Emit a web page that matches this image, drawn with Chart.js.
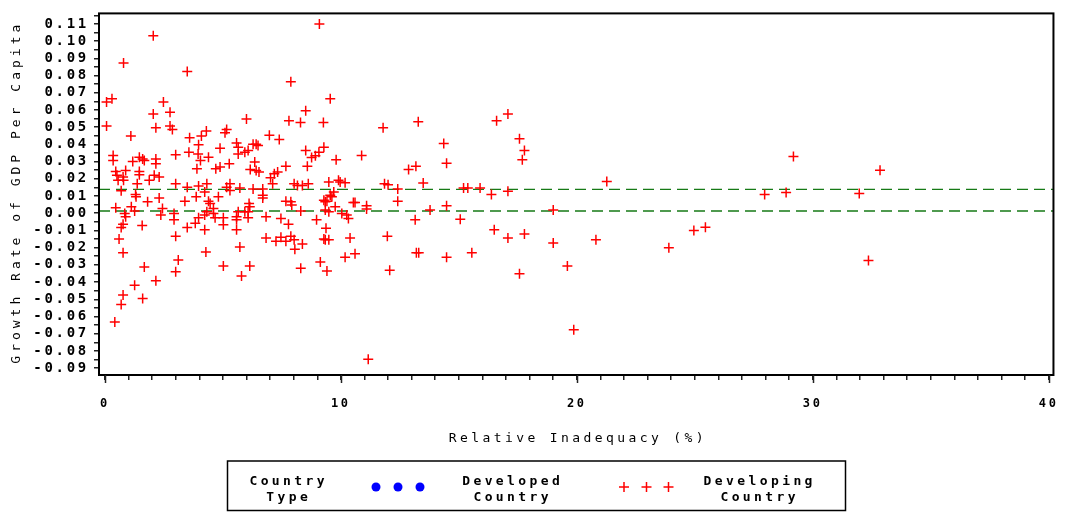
<!DOCTYPE html>
<html>
<head>
<meta charset="utf-8">
<title>Growth Rate vs Relative Inadequacy</title>
<script src="https://cdn.jsdelivr.net/npm/chart.js@4"></script>
<style>
  body { margin: 0; background: #fff; }
  #wrap { width: 1073px; height: 512px; position: relative; }
</style>
</head>
<body>
<div id="wrap"><canvas id="scatter"></canvas></div>
<script>
// Relative inadequacy (%) of each developing country
const relInadequacy = [
  0.07, 0.30, 0.07, 0.79, 2.05, 3.49, 9.09, 7.88, 9.55, 2.48,
  2.05, 2.76, 2.16, 2.76, 2.86, 1.10, 6.00, 8.51, 7.80, 8.29,
  9.26, 3.59, 3.97, 4.09, 4.30, 5.09, 5.16, 6.97, 7.39, 11.79,
  13.28, 16.60, 17.08, 17.57, 3.56, 3.95, 4.05, 4.39, 3.90, 4.70,
  4.88, 4.88, 5.58, 5.65, 5.65, 5.93, 6.07, 6.28, 6.41, 6.49,
  5.27, 6.35, 6.16, 6.41, 6.53, 7.67, 8.51, 9.28, 8.76, 8.92,
  9.07, 9.80, 8.58, 7.18, 7.32, 7.02, 0.35, 0.35, 1.18, 1.46,
  1.60, 1.67, 2.16, 2.16, 3.00, 0.46, 0.51, 0.88, 1.46, 1.46,
  2.09, 2.30, 0.77, 10.88, 12.87, 13.18, 14.36, 14.48, 17.78, 17.69,
  29.18, 32.85, 0.56, 0.79, 1.88, 1.37, 3.00, 3.49, 3.97, 4.32,
  5.30, 5.16, 5.30, 5.72, 6.28, 6.69, 7.11, 8.02, 8.16, 8.37,
  8.62, 9.49, 9.90, 9.97, 10.18, 0.69, 1.30, 1.32, 1.81, 2.30,
  3.39, 3.87, 4.23, 4.39, 4.46, 4.81, 6.69, 6.69, 9.70, 9.62,
  9.55, 9.28, 9.34, 9.41, 10.53, 7.67, 7.88, 6.11, 11.85, 12.00,
  12.41, 13.49, 15.20, 15.38, 15.90, 16.38, 17.08, 21.27, 12.41, 27.96,
  28.87, 31.97, 0.46, 1.12, 1.26, 0.84, 0.88, 2.44, 2.37, 2.93,
  2.93, 3.49, 3.83, 3.97, 4.23, 4.32, 4.60, 4.60, 4.67, 5.02,
  5.02, 4.23, 0.77, 0.69, 1.58, 7.92, 6.14, 8.30, 9.76, 5.65,
  5.58, 6.07, 5.93, 5.58, 5.58, 6.07, 6.83, 7.46, 8.97, 9.34,
  9.49, 10.25, 10.32, 7.78, 9.37, 11.09, 11.09, 13.78, 14.48, 19.00,
  10.60, 10.04, 13.15, 15.06, 16.50, 24.96, 25.45, 0.60, 3.00, 0.77,
  1.67, 1.26, 0.77, 0.69, 1.60, 0.42, 2.16, 3.11, 3.00, 4.28,
  5.02, 5.72, 5.79, 6.14, 6.83, 7.25, 7.46, 7.67, 7.88, 8.02,
  8.37, 8.05, 8.30, 9.13, 9.28, 9.34, 9.49, 9.41, 10.39, 10.18,
  10.60, 11.97, 12.07, 13.20, 13.30, 14.48, 15.55, 17.08, 17.78, 17.57,
  19.00, 19.60, 19.87, 20.81, 23.90, 32.36, 11.16
];

// Growth rate of GDP per capita, same order as above
const gdpGrowth = [
  0.0646, 0.0665, 0.0507, 0.0873, 0.1031, 0.0824, 0.1100, 0.0764, 0.0665, 0.0646,
  0.0576, 0.0586, 0.0497, 0.0507, 0.0487, 0.0448, 0.0547, 0.0596, 0.0537, 0.0527,
  0.0527, 0.0438, 0.0398, 0.0448, 0.0478, 0.0468, 0.0487, 0.0453, 0.0428, 0.0497,
  0.0532, 0.0537, 0.0576, 0.0433, 0.0354, 0.0344, 0.0307, 0.0325, 0.0258, 0.0258,
  0.0268, 0.0377, 0.0408, 0.0383, 0.0344, 0.0354, 0.0364, 0.0401, 0.0401, 0.0393,
  0.0287, 0.0297, 0.0254, 0.0248, 0.0240, 0.0273, 0.0364, 0.0383, 0.0324, 0.0334,
  0.0354, 0.0310, 0.0273, 0.0230, 0.0240, 0.0206, 0.0335, 0.0307, 0.0300, 0.0325,
  0.0315, 0.0306, 0.0315, 0.0287, 0.0339, 0.0243, 0.0221, 0.0248, 0.0243, 0.0224,
  0.0221, 0.0211, 0.0211, 0.0335, 0.0254, 0.0273, 0.0405, 0.0290, 0.0364, 0.0310,
  0.0329, 0.0250, 0.0191, 0.0191, 0.0191, 0.0171, 0.0171, 0.0151, 0.0158, 0.0171,
  0.0171, 0.0151, 0.0132, 0.0146, 0.0141, 0.0141, 0.0171, 0.0171, 0.0161, 0.0161,
  0.0171, 0.0181, 0.0191, 0.0181, 0.0177, 0.0130, 0.0109, 0.0095, 0.0066, 0.0089,
  0.0070, 0.0095, 0.0124, 0.0070, 0.0056, 0.0095, 0.0105, 0.0089, 0.0124, 0.0095,
  0.0105, 0.0076, 0.0066, 0.0070, 0.0062, 0.0070, 0.0066, 0.0056, 0.0171, 0.0166,
  0.0140, 0.0176, 0.0146, 0.0146, 0.0146, 0.0109, 0.0128, 0.0185, 0.0070, 0.0109,
  0.0120, 0.0114, 0.0032, 0.0038, 0.0013, -0.0001, -0.0020, 0.0028, -0.0010, -0.0001,
  -0.0038, -0.0083, -0.0058, -0.0026, -0.0010, 0.0009, 0.0028, -0.0001, -0.0026, -0.0026,
  -0.0067, -0.0096, -0.0064, -0.0083, -0.0071, 0.0048, 0.0038, 0.0013, 0.0038, 0.0009,
  -0.0020, 0.0009, 0.0009, -0.0038, -0.0096, -0.0026, -0.0020, -0.0030, -0.0038, 0.0019,
  0.0009, -0.0010, -0.0030, -0.0064, -0.0087, 0.0044, 0.0025, 0.0019, 0.0044, 0.0019,
  0.0062, -0.0001, -0.0038, -0.0035, -0.0096, -0.0101, -0.0081, -0.0150, -0.0134, -0.0230,
  -0.0313, -0.0418, -0.0475, -0.0530, -0.0495, -0.0632, -0.0393, -0.0272, -0.0340, -0.0226,
  -0.0307, -0.0197, -0.0365, -0.0307, -0.0144, -0.0163, -0.0140, -0.0163, -0.0134, -0.0154,
  -0.0179, -0.0209, -0.0320, -0.0284, -0.0150, -0.0154, -0.0154, -0.0336, -0.0144, -0.0256,
  -0.0236, -0.0134, -0.0332, -0.0230, -0.0230, -0.0256, -0.0230, -0.0144, -0.0121, -0.0351,
  -0.0173, -0.0307, -0.0677, -0.0154, -0.0201, -0.0275, -0.0849
];

// developed countries: in the legend, no points plotted
const developedX = [];
const developedY = [];

// dashed reference levels
const refLevels = [0.0139, 0.0013];

const xTickValues = [0, 10, 20, 30, 40];
const yTickValues = [-0.09, -0.08, -0.07, -0.06, -0.05, -0.04, -0.03, -0.02, -0.01, 0.00,
                     0.01, 0.02, 0.03, 0.04, 0.05, 0.06, 0.07, 0.08, 0.09, 0.10, 0.11];

const X_MIN = -0.25, X_MAX = 40.2;
const Y_MIN = -0.094, Y_MAX = 0.1161;

const xTitle = 'Relative Inadequacy (%)';
const yTitle = 'Growth Rate of GDP Per Capita';
const legendHead = ['Country', 'Type'];
const legendDeveloped = ['Developed', 'Country'];
const legendDeveloping = ['Developing', 'Country'];

const MONO = '"DejaVu Sans Mono", "Liberation Mono", monospace';

const developingPts = relInadequacy.map((x, i) => ({ x: x, y: gdpGrowth[i] }));
const developedPts = developedX.map((x, i) => ({ x: x, y: developedY[i] }));

const refSets = refLevels.map(v => ({
    type: 'line',
    data: [{ x: X_MIN, y: v }, { x: X_MAX, y: v }],
    borderColor: '#167a16',
    borderWidth: 1.3,
    borderDash: [11, 6],
    pointRadius: 0,
    fill: false,
}));

function spacedText(ctx, text, x, y, spacing) {
    ctx.letterSpacing = spacing + 'px';
    // trailing spacing shifts centred text, compensate
    ctx.fillText(text, x + spacing / 2, y);
}

const sasLook = {
    id: 'sasLook',
    beforeDraw(chart) {
        chart.ctx.letterSpacing = '2.7px';
    },
    afterDraw(chart) {
        const ctx = chart.ctx;
        const area = chart.chartArea;
        const xs = chart.scales.x;
        ctx.save();

        // frame
        ctx.strokeStyle = '#000';
        ctx.lineWidth = 2;
        ctx.strokeRect(area.left, area.top, area.right - area.left, area.bottom - area.top);

        // longer major ticks on x
        ctx.lineWidth = 1.5;
        ctx.strokeStyle = '#222';
        xTickValues.forEach(v => {
            const px = Math.round(xs.getPixelForValue(v)) + 0.5;
            ctx.beginPath();
            ctx.moveTo(px, area.bottom);
            ctx.lineTo(px, area.bottom + 8);
            ctx.stroke();
        });

        ctx.fillStyle = '#000';
        ctx.textAlign = 'center';
        ctx.textBaseline = 'middle';

        // axis titles
        ctx.font = '13px ' + MONO;
        spacedText(ctx, xTitle, (area.left + area.right) / 2, 439, 3.4);
        ctx.save();
        ctx.translate(17, (area.top + area.bottom) / 2);
        ctx.rotate(-Math.PI / 2);
        spacedText(ctx, yTitle, 0, 0, 4);
        ctx.restore();

        // legend
        ctx.lineWidth = 1.5;
        ctx.strokeStyle = '#000';
        ctx.strokeRect(227.5, 461, 618, 49.5);
        ctx.font = 'bold 13px ' + MONO;
        const rows = [482, 498];
        [[legendHead, 287], [legendDeveloped, 511], [legendDeveloping, 758]].forEach(([lines, cx]) => {
            lines.forEach((t, i) => spacedText(ctx, t, cx, rows[i], 3.4));
        });
        ctx.fillStyle = '#0000ff';
        [376, 398, 420].forEach(cx => {
            ctx.beginPath();
            ctx.arc(cx, 487, 4.5, 0, Math.PI * 2);
            ctx.fill();
        });
        ctx.strokeStyle = '#ff0000';
        ctx.lineWidth = 1.5;
        [624, 646.5, 668.5].forEach(cx => {
            ctx.beginPath();
            ctx.moveTo(cx - 5, 487);
            ctx.lineTo(cx + 5, 487);
            ctx.moveTo(cx, 482);
            ctx.lineTo(cx, 492);
            ctx.stroke();
        });

        ctx.restore();
    }
};

new Chart(document.getElementById('scatter'), {
    type: 'scatter',
    data: {
        datasets: [
            {
                label: 'Developing Country',
                data: developingPts,
                pointStyle: 'cross',
                pointRadius: 5,
                pointBorderWidth: 1.5,
                borderColor: '#ff0000',
                backgroundColor: '#ff0000',
            },
            {
                label: 'Developed Country',
                data: developedPts,
                pointStyle: 'circle',
                pointRadius: 4.5,
                borderColor: '#0000ff',
                backgroundColor: '#0000ff',
            },
            ...refSets
        ]
    },
    options: {
        responsive: true,
        maintainAspectRatio: false,
        animation: false,
        layout: { padding: { left: 0, right: 7, top: 9.5, bottom: 97 } },
        plugins: {
            legend: { display: false },
            tooltip: { enabled: false }
        },
        scales: {
            x: {
                type: 'linear',
                min: X_MIN,
                max: X_MAX,
                afterBuildTicks: (scale) => {
                    const ticks = [];
                    for (let v = 0; v <= 40; v++) ticks.push({ value: v });
                    scale.ticks = ticks;
                },
                afterFit: (scale) => { scale.height = 40; },
                border: { display: false },
                grid: { drawOnChartArea: false, drawTicks: true, tickLength: 5, color: '#222', lineWidth: 1.5 },
                ticks: {
                    autoSkip: false,
                    maxRotation: 0,
                    padding: 17,
                    color: '#000',
                    font: { family: MONO, size: 12, weight: 'bold' },
                    callback: (v) => xTickValues.includes(v) ? String(v) : ''
                }
            },
            y: {
                type: 'linear',
                min: Y_MIN,
                max: Y_MAX,
                afterBuildTicks: (scale) => {
                    const ticks = [];
                    yTickValues.forEach(v => {
                        ticks.push({ value: v });
                        if (v < 0.11) ticks.push({ value: +(v + 0.005).toFixed(3) });
                    });
                    ticks.push({ value: 0.115 });
                    scale.ticks = ticks;
                },
                afterFit: (scale) => { scale.width = 99; },
                border: { display: false },
                grid: { drawOnChartArea: false, drawTicks: true, tickLength: 5, color: '#222', lineWidth: 1.5 },
                ticks: {
                    autoSkip: false,
                    padding: 5,
                    color: '#000',
                    font: { family: MONO, size: 14, weight: 'bold' },
                    callback: (v) => yTickValues.some(t => Math.abs(t - v) < 1e-9) ? v.toFixed(2) : ''
                }
            }
        }
    },
    plugins: [sasLook]
});
</script>
</body>
</html>
